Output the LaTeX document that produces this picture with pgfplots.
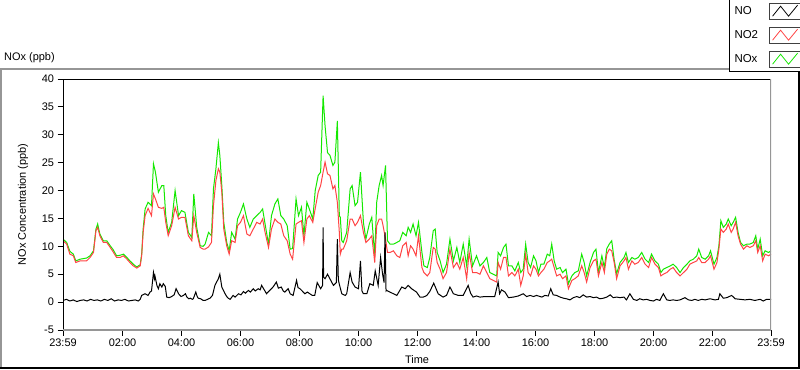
\documentclass[border=0pt]{standalone}
\usepackage{fontspec}
\setmainfont{Liberation Sans}
\usepackage{pgfplots}
\pgfplotsset{compat=1.18}
\usepackage{pgfplotstable}

\definecolor{noxgreen}{RGB}{20,232,0}
\definecolor{notwored}{RGB}{255,68,68}
\definecolor{framegray}{RGB}{150,150,150}

% t (minutes since 23:59), NO2, NOx
\pgfplotstableread{
t R G
0 11.0 11.3
7.5 10.4 10.7
14 8.6 9.1
21 8.3 8.6
26 7.1 7.4
35 7.4 7.7
48 7.4 7.9
55 8.0 8.3
62 8.9 9.2
67 12.8 13.1
70.5 13.4 14.0
75 11.9 12.2
82 10.7 11.0
89 10.7 11.0
96 9.8 10.1
102 9.0 9.4
109 8.0 8.3
116 8.0 8.4
123 8.3 8.6
130 7.7 8.0
136 7.1 7.4
143 6.5 6.8
150 6.1 6.3
157 6.5 6.7
160 8.3 8.6
163 12.5 13.1
167 15.5 16.7
173 16.8 17.9
180 15.5 17.3
184 19.4 24.8
188 18.5 23.3
194 17.0 19.7
201 16.8 20.9
205 17.0 20.9
209 14.3 15.5
214 11.9 12.5
221 13.7 14.3
228 17.0 20.0
235 14.9 15.5
241 15.2 16.4
248 15.2 16.1
255 11.9 12.5
262 11.0 11.6
266 15.5 19.4
272 12.5 13.4
279 9.8 10.1
285 9.5 10.0
289 9.5 10.4
296 9.9 12.5
302 10.7 11.9
306 17.3 20.3
311 21.8 23.9
316 23.9 28.6
319 23.3 26.3
323 19.7 20.9
327 13.1 14.3
333 10.1 10.7
338 8.6 9.2
343 11.0 12.5
350 10.7 11.3
355 13.7 14.9
361 14.3 16.1
367 15.5 17.6
374 12.2 14.9
380 11.9 13.4
387 13.1 14.9
394 14.3 15.5
401 14.0 16.1
406 14.9 16.7
411 12.5 14.0
418 9.8 10.4
424 13.1 15.5
431 14.9 17.6
437 14.3 18.5
443 14.0 15.5
449 11.9 14.9
456 11.0 13.7
462 8.6 9.5
467 7.7 9.6
474 14.0 18.5
479 14.3 15.5
485 14.6 17.0
490 10.7 11.9
496 14.9 17.9
501 15.5 16.7
508 14.3 14.9
513 16.8 20.0
519 19.7 22.7
524 20.9 23.3
529 23.3 37.0
533 25.1 31.6
538 23.0 26.8
543 22.7 26.3
549 20.3 24.5
553 20.9 25.1
558 17.9 32.5
562 12.5 15.5
564 8.6 15.2
567 9.5 11.0
570 9.5 10.7
577 11.0 12.5
584 14.9 20.3
588 14.9 20.9
594 13.7 17.3
599 14.3 17.9
605 15.5 23.3
611 12.5 14.3
616 10.7 11.3
623 11.3 14.0
628 11.9 15.2
634 7.1 8.3
638 13.7 17.9
643 14.9 20.9
648 14.9 22.7
651 13.7 20.9
656 11.3 24.5
660 8.9 11.0
665 8.9 10.4
672 9.2 10.4
679 8.3 10.7
685 8.0 11.0
691 10.1 12.5
698 10.7 11.9
702 8.3 13.4
707 10.1 12.5
712 9.5 14.0
718 8.3 11.9
723 11.9 14.3
730 6.2 8.9
734 5.3 6.5
741 4.7 6.2
746 5.3 8.0
753 9.8 12.8
757 9.5 13.1
761 7.1 8.9
767 5.9 7.4
773 4.2 5.3
780 5.3 6.8
787 9.5 11.3
794 6.2 7.4
801 7.1 9.8
807 5.9 7.1
814 8.0 10.4
821 4.2 6.5
826 8.9 11.3
833 5.3 6.5
841 5.3 8.3
848 5.0 6.5
855 6.5 7.1
862 5.3 8.0
868 4.2 5.3
875 3.9 5.0
882 3.6 4.7
885 7.1 8.9
890 5.9 8.3
896 8.0 9.8
901 8.0 10.4
906 4.7 6.5
913 5.3 6.5
919 4.7 5.6
926 5.9 7.1
931 3.0 5.3
936 4.7 5.9
941 8.6 10.4
946 5.3 7.1
951 4.7 6.2
957 6.5 8.3
962 5.9 7.4
967 4.7 5.3
972 5.3 6.8
978 5.9 6.8
985 7.1 8.6
990 7.4 8.3
994 7.7 10.4
999 6.2 7.4
1004 4.7 5.9
1011 5.0 6.2
1016 4.2 5.3
1023 4.7 5.9
1028 2.4 3.3
1035 3.9 4.7
1041 4.2 5.3
1048 4.7 5.6
1055 6.5 8.6
1060 5.3 7.1
1065 3.6 4.7
1072 6.2 7.1
1079 7.4 8.9
1084 7.7 9.5
1089 4.7 5.3
1096 7.1 8.3
1101 5.3 6.2
1106 8.6 9.6
1111 9.5 10.4
1116 9.2 11.0
1121 7.1 7.6
1126 4.2 5.1
1133 6.5 7.1
1141 7.4 8.0
1145 8.0 8.9
1150 5.9 7.1
1157 7.4 8.0
1163 6.8 7.7
1170 7.1 8.0
1177 8.0 8.9
1184 6.8 7.7
1191 6.2 7.1
1197 8.0 8.6
1204 6.8 7.4
1211 6.2 6.8
1216 4.7 5.3
1221 5.0 5.9
1228 5.3 6.2
1235 5.9 6.5
1241 6.2 6.8
1248 5.3 6.2
1255 4.7 5.3
1262 5.3 6.2
1269 5.9 6.8
1275 6.8 7.4
1282 7.1 7.7
1289 7.4 8.3
1293 8.0 9.5
1299 7.1 8.0
1306 7.1 7.7
1313 7.7 8.3
1317 8.3 9.2
1324 5.9 6.8
1330 7.1 8.0
1334 9.5 10.1
1338 13.1 14.6
1343 12.5 13.4
1349 13.1 14.0
1353 14.0 14.9
1359 12.5 13.7
1363 13.1 14.3
1368 14.3 15.2
1373 11.9 12.5
1378 10.4 10.7
1384 9.5 10.1
1391 10.1 10.4
1397 9.8 10.4
1404 10.1 10.7
1409 11.0 11.9
1413 8.9 9.5
1418 10.1 11.3
1423 7.4 8.3
1428 8.6 9.2
1435 8.3 8.9
1440 8.6 9.2
}\noxdata

% t (minutes since 23:59), NO
\pgfplotstableread{
t NO
0 0.3
7 0.5
14 0.2
21 0.4
28 0.1
35 0.3
42 0.4
49 0.2
56 0.5
63 0.3
70 0.4
77 0.2
84 0.5
91 0.3
98 0.6
105 0.2
112 0.4
119 0.3
126 0.5
133 0.2
140 0.3
147 0.4
153 0.2
157 0.5
160 1.2
167 1.5
173 1.2
177 1.8
180 2.0
184 5.3
186 4.2
187 4.7
191 3.0
194 2.4
197 3.3
201 2.7
204 3.3
208 2.8
211 0.9
216 0.8
221 1.0
226 1.3
230 2.4
233 1.9
235 1.5
240 1.0
245 1.2
249 1.5
252 0.9
256 0.6
259 0.7
263 0.5
265 0.6
270 1.8
273 1.0
275 0.7
280 0.6
285 0.3
289 0.3
299 0.7
304 1.2
309 3.0
316 4.2
319 5.0
323 2.7
327 2.0
329 1.6
333 1.0
336 0.7
340 0.5
346 1.2
350 0.9
357 1.5
362 1.3
367 1.9
371 1.6
377 2.1
381 1.8
387 2.4
391 2.0
397 2.4
401 2.2
404 3.0
408 2.4
414 1.5
418 1.9
424 2.4
428 2.8
434 3.6
438 2.5
444 2.7
448 2.0
451 1.8
458 2.4
462 1.5
468 1.2
475 3.9
478 2.6
482 2.4
492 1.5
497 1.8
502 1.5
507 1.2
512 1.2
517 3.5
524 2.4
528 3.0
529 13.4
530 4.5
533 4.2
538 5.0
544 4.0
550 3.0
556 3.5
558 11.3
560 4.0
562 3.2
567 1.5
574 1.2
577 1.5
584 5.3
588 3.6
594 2.7
601 2.4
605 7.4
608 2.0
611 1.5
618 1.5
624 3.3
631 3.0
635 5.6
641 3.0
646 8.0
650 5.0
653 3.5
655 12.5
657 2.0
658 2.1
665 1.8
672 1.5
679 1.2
689 2.7
696 2.4
702 3.0
709 2.4
719 1.8
726 0.9
733 0.9
740 1.2
746 1.9
754 3.4
763 1.5
773 0.9
780 1.2
787 2.7
794 1.5
804 1.2
814 1.2
824 3.0
829 1.6
834 0.9
841 1.1
848 0.9
858 1.0
878 1.0
885 3.6
888 1.5
892 2.2
899 1.8
906 0.8
916 0.9
926 1.1
936 1.5
943 1.0
950 1.2
957 1.0
963 1.2
974 0.9
980 1.2
987 1.1
992 2.4
997 1.3
1004 1.2
1011 0.9
1018 0.7
1024 0.6
1031 0.4
1038 0.8
1045 1.0
1051 0.8
1058 1.3
1065 0.9
1072 1.0
1079 0.8
1085 0.9
1092 0.6
1099 0.7
1106 0.9
1113 1.3
1119 0.8
1126 0.9
1133 0.8
1141 0.9
1146 0.4
1153 1.5
1160 0.5
1167 0.3
1173 0.6
1180 0.4
1187 0.5
1194 0.3
1201 0.2
1207 0.5
1214 0.3
1221 1.5
1228 0.4
1234 0.3
1241 0.4
1248 0.3
1255 0.4
1265 0.8
1272 0.4
1279 0.3
1285 0.5
1292 0.3
1299 0.5
1306 0.4
1316 0.6
1326 0.4
1333 0.5
1336 1.5
1343 0.7
1350 0.8
1360 1.2
1367 0.6
1377 0.5
1387 0.4
1397 0.5
1407 0.3
1418 0.5
1424 0.2
1431 0.5
1440 0.5
}\nodata

\begin{document}
\begin{tikzpicture}[x=1bp,y=1bp]
\path[use as bounding box] (0,0) rectangle (800,369);
% outer panel frame
\draw[framegray, line width=2bp] (1,2) -- (1,300) -- (800,300);
\draw[black, line width=2bp] (0,1) -- (799,1) -- (799,300);
\node[anchor=west, inner sep=0pt, font=\fontsize{11}{13}\selectfont] at (4,311) {NOx (ppb)};

\begin{axis}[
  at={(63bp,39bp)}, anchor=south west,
  scale only axis, width=708bp, height=251bp,
  xmin=0, xmax=1440, ymin=-5, ymax=40,
  axis line style={draw=none},
  xtick={0,121,241,361,481,601,721,841,961,1081,1201,1321,1440},
  xticklabels={23:59,02:00,04:00,06:00,08:00,10:00,12:00,14:00,16:00,18:00,20:00,22:00,23:59},
  minor x tick num=7,
  ytick={-5,0,5,10,15,20,25,30,35,40},
  yticklabels={-5,0,5,10,15,20,25,30,35,40},
  xtick pos=bottom, ytick pos=left,
  tick align=outside,
  major tick length=5.5bp, minor tick length=3.5bp,
  tick style={black, line width=1bp},
  ticklabel style={font=\fontsize{11}{13}\selectfont},
  xlabel={Time},
  xlabel style={at={(axis description cs:0.5,-0.1195)}, anchor=center, font=\fontsize{11}{13}\selectfont},
  ylabel={NOx Concentration (ppb)},
  ylabel style={at={(axis description cs:-0.0565,0.5)}, anchor=center, font=\fontsize{11}{13}\selectfont},
  legend plot pos=right,
  legend cell align=left,
  reverse legend,
  legend image code/.code={
    \draw[black!75, line width=1bp, fill=white] (0bp,-8bp) rectangle (31bp,8bp);
    \draw[#1, line width=0.8bp] (3bp,-5bp) -- (11bp,5bp) -- (19bp,-5bp) -- (28bp,6bp);
  },
  legend style={at={(axis description cs:0.9407,1.322)}, anchor=north west,
    draw=black, line width=1bp, fill=white, inner xsep=3bp, inner ysep=4bp,
    row sep=7bp, font=\fontsize{11.5}{13}\selectfont,
    /tikz/every odd column/.append style={column sep=9bp}},
]
\addplot[noxgreen, line width=1bp] table[x=t, y=G] {\noxdata};
\addlegendentry{NOx}
\addplot[notwored, line width=1bp] table[x=t, y=R] {\noxdata};
\addlegendentry{NO2}
\addplot[black, line width=1bp] table[x=t, y=NO] {\nodata};
\addlegendentry{NO}
\draw[black, line width=1bp] (rel axis cs:0,0) -- (rel axis cs:0,1) -- (rel axis cs:1,1);
\draw[framegray, line width=1.5bp] (rel axis cs:0,0) -- (rel axis cs:1,0) -- (rel axis cs:1,1);
\end{axis}
\end{tikzpicture}
\end{document}
